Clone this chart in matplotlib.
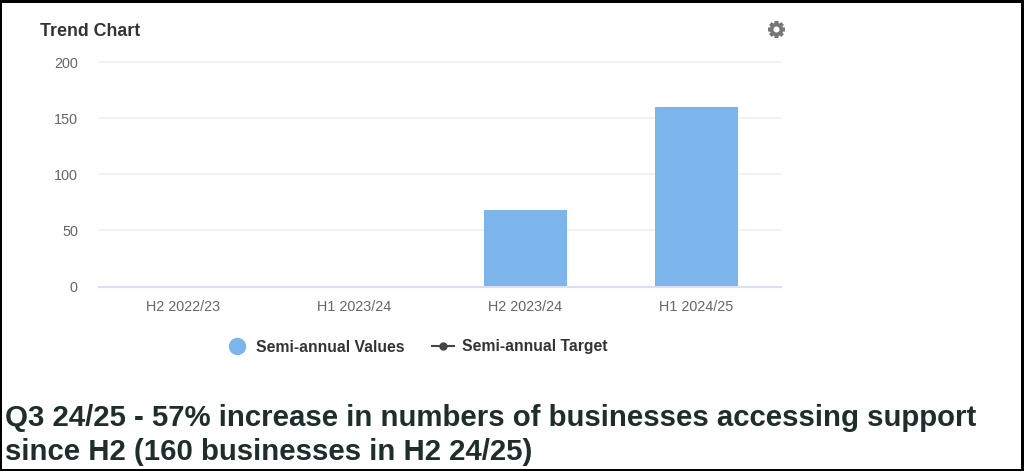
import matplotlib
matplotlib.use("Agg")
import matplotlib.pyplot as plt
from matplotlib.lines import Line2D
from matplotlib.patches import Rectangle

categories = ["H2 2022/23", "H1 2023/24", "H2 2023/24", "H1 2024/25"]
semi_annual_values = [0, 0, 68, 160]
y_ticks = [0, 50, 100, 150, 200]

title = "Trend Chart"
caption = ("Q3 24/25 - 57% increase in numbers of businesses accessing support\n"
           "since H2 (160 businesses in H2 24/25)")

WIDTH, HEIGHT = 1024, 471
BAR_COLOR = "#7cb5ec"
TARGET_COLOR = "#434348"
GEAR_COLOR = "#777777"


def px(x, y):
    # figure fraction from pixel position, origin top left
    return x / WIDTH, 1 - y / HEIGHT


def draw_gear(fig, x, y):
    # spokes make the teeth, a thick ring on top makes the body
    fx, fy = px(x, y)
    fig.add_artist(Line2D([fx], [fy], marker=(8, 2, 0), markersize=12, markeredgewidth=2.6,
                          color=GEAR_COLOR, transform=fig.transFigure))
    fig.add_artist(Line2D([fx], [fy], marker="o", markersize=7, markeredgewidth=2.6,
                          markerfacecolor="white", markeredgecolor=GEAR_COLOR,
                          transform=fig.transFigure))


def main():
    plt.rcParams["font.family"] = ["Liberation Sans", "DejaVu Sans"]

    fig = plt.figure(figsize=(WIDTH / 100, HEIGHT / 100), dpi=100, facecolor="white")
    left, bottom = px(98, 286.5)
    right, top = px(782, 62)
    ax = fig.add_axes([left, bottom, right - left, top - bottom])

    x = range(len(categories))
    ax.bar(x, semi_annual_values, width=0.485, color=BAR_COLOR, zorder=2)

    ax.set_xlim(-0.5, len(categories) - 0.5)
    ax.set_ylim(0, 200)
    ax.set_xticks(list(x), categories)
    ax.set_yticks(y_ticks)
    ax.tick_params(axis="x", length=0, pad=9.5, labelsize=10.4, labelcolor="#666666")
    ax.tick_params(axis="y", length=0, pad=14.5, labelsize=10.4, labelcolor="#666666")
    ax.grid(axis="y", color="#f2f2f2", linewidth=1.5, zorder=1, clip_on=False,
            solid_capstyle="butt")
    ax.set_axisbelow(True)

    for side in ["top", "left", "right"]:
        ax.spines[side].set_visible(False)
    ax.spines["bottom"].set_color("#dcdff0")
    ax.spines["bottom"].set_linewidth(1.5)
    ax.spines["bottom"].set_capstyle("butt")

    fig.text(*px(40, 31), title, fontsize=12.8, color="#333333", va="center",
             fontweight="bold")
    draw_gear(fig, 776, 28.5)

    handles = [
        Line2D([], [], linestyle="none", marker="o", markersize=11.5, color=BAR_COLOR),
        Line2D([], [], color=TARGET_COLOR, linewidth=1.5, marker="o", markersize=5),
    ]
    fig.legend(handles, ["Semi-annual Values", "Semi-annual Target"], ncol=2,
               loc="center", bbox_to_anchor=px(416.5, 347), frameon=False,
               prop={"size": 11.3, "weight": "bold"}, labelcolor="#333333",
               handlelength=1.42, handletextpad=0.5, columnspacing=1.75)

    fig.text(*px(5, 435), caption, fontsize=21.15, fontweight="bold", color="#1f2d2d",
             va="center", linespacing=1.23)

    # black frame around the whole image
    for x0, y0, w, h in [(0, 0, WIDTH, 3), (0, HEIGHT - 2, WIDTH, 2),
                         (0, 0, 2, HEIGHT), (WIDTH - 3, 0, 3, HEIGHT)]:
        fx, fy = px(x0, y0 + h)
        fig.add_artist(Rectangle((fx, fy), w / WIDTH, h / HEIGHT, color="black",
                                 transform=fig.transFigure, linewidth=0))

    fig.savefig("out.png", dpi=100)
    plt.close(fig)


if __name__ == "__main__":
    main()
